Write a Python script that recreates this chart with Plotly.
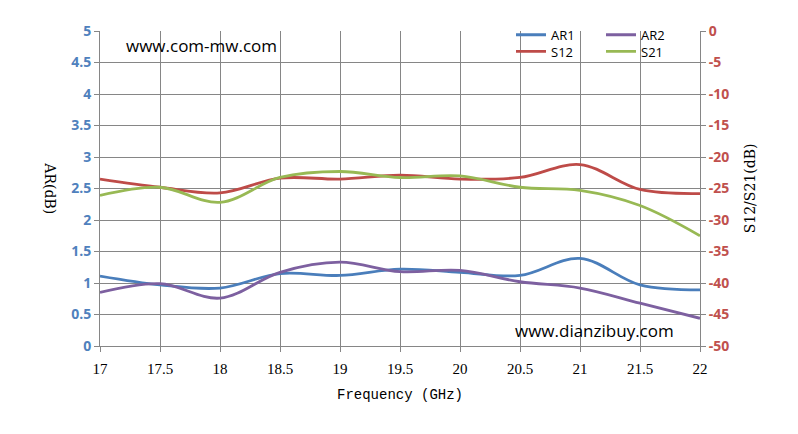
import plotly.graph_objects as go

freq = [17, 17.5, 18, 18.5, 19, 19.5, 20, 20.5, 21, 21.5, 22]
ar1 = [1.11, 0.97, 0.92, 1.15, 1.12, 1.22, 1.17, 1.12, 1.39, 0.97, 0.89]
ar2 = [0.85, 0.99, 0.76, 1.17, 1.33, 1.18, 1.20, 1.02, 0.92, 0.68, 0.44]
s12 = [-23.5, -24.8, -25.7, -23.35, -23.5, -22.9, -23.5, -23.25, -21.2, -25.15, -25.8]
s21 = [-26.1, -24.8, -27.2, -23.25, -22.3, -23.25, -23.0, -24.8, -25.3, -27.7, -32.5]

x_ticks = [17, 17.5, 18, 18.5, 19, 19.5, 20, 20.5, 21, 21.5, 22]
left_ticks = [0, 0.5, 1, 1.5, 2, 2.5, 3, 3.5, 4, 4.5, 5]
right_ticks = [-50, -45, -40, -35, -30, -25, -20, -15, -10, -5, 0]

BLUE = "#4A7EBB"
RED = "#BE4B48"
PURPLE = "#7D60A0"
GREEN = "#98B954"
GRID = "#868686"

series = [
    ("AR1", ar1, "y", BLUE, "legend"),
    ("AR2", ar2, "y", PURPLE, "legend2"),
    ("S12", s12, "y2", RED, "legend3"),
    ("S21", s21, "y2", GREEN, "legend4"),
]

fig = go.Figure()
for name, vals, ax, col, leg in series:
    fig.add_trace(go.Scatter(x=freq, y=vals, name=name, mode="lines", yaxis=ax,
                             line=dict(color=col, width=2.8, shape="spline", smoothing=1.0),
                             legend=leg))

legfont = dict(family="Open Sans", size=13, color="black")
def leg(x, y):
    return dict(x=x, y=y, xanchor="left", yanchor="middle", bgcolor="rgba(0,0,0,0)",
                font=legfont, itemwidth=30, borderwidth=0)

fig.update_layout(
    width=798, height=434,
    margin=dict(l=92, r=106, t=14, b=96),
    paper_bgcolor="white", plot_bgcolor="white",
    showlegend=True,
    xaxis=dict(range=[17, 22], tickvals=x_ticks, ticktext=[str(v) for v in x_ticks],
               showgrid=True, gridcolor=GRID, gridwidth=1,
               showline=True, linecolor=GRID, linewidth=1,
               ticks="outside", ticklen=5, tickcolor=GRID, ticklabelstandoff=4,
               tickfont=dict(family="Liberation Sans Narrow", size=15, color="black"),
               zeroline=False),
    yaxis=dict(range=[0, 5], tickvals=left_ticks,
               ticktext=[("%g" % v) for v in left_ticks],
               showgrid=True, gridcolor=GRID, gridwidth=1,
               showline=True, linecolor=GRID, linewidth=1,
               ticks="outside", ticklen=5, tickcolor=GRID,
               tickfont=dict(family="Open Sans", size=14, color="#4F81BD", weight="bold"),
               zeroline=False),
    yaxis2=dict(range=[-50, 0], tickvals=right_ticks,
                ticktext=[("%g" % v) for v in right_ticks],
                overlaying="y", side="right", showgrid=False,
                showline=True, linecolor=GRID, linewidth=1,
                ticks="outside", ticklen=5, tickcolor=GRID,
                tickfont=dict(family="Open Sans", size=14, color="#C0504D", weight="bold"),
                zeroline=False),
    legend=leg(0.685, 0.988),
    legend2=leg(0.835, 0.988),
    legend3=leg(0.685, 0.935),
    legend4=leg(0.835, 0.935),
    annotations=[
        dict(text="www.com-mw.com", xref="paper", yref="paper", x=0.04, y=0.955,
             xanchor="left", yanchor="middle", showarrow=False,
             font=dict(family="Open Sans", size=17, color="black")),
        dict(text="www.dianzibuy.com", xref="paper", yref="paper", x=0.96, y=0.05,
             xanchor="right", yanchor="middle", showarrow=False,
             font=dict(family="Open Sans", size=17, color="black")),
        dict(text="AR(dB)", xref="paper", yref="paper", x=-0.083, y=0.5,
             xanchor="center", yanchor="middle", showarrow=False, textangle=90,
             font=dict(family="DejaVu Serif", size=14, color="black")),
        dict(text="S12/S21(dB)", xref="paper", yref="paper", x=1.083, y=0.5,
             xanchor="center", yanchor="middle", showarrow=False, textangle=-90,
             font=dict(family="DejaVu Serif", size=14, color="black")),
        dict(text="Frequency (GHz)", xref="paper", yref="paper", x=0.5, y=-0.125,
             xanchor="center", yanchor="top", showarrow=False,
             font=dict(family="Liberation Mono", size=14, color="black")),
    ],
)

fig.write_html("out.html")
